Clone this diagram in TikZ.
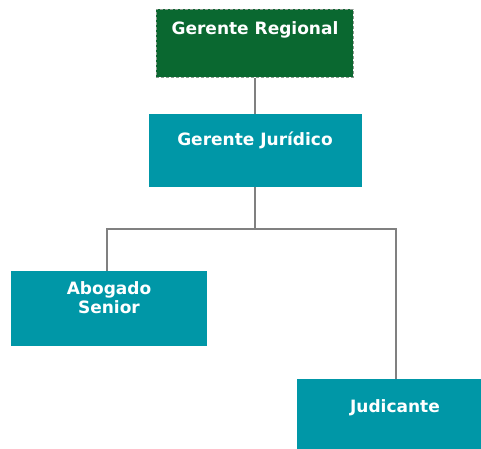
\documentclass[tikz,border=0pt]{standalone}
\usepackage{fontspec}
\setmainfont{DejaVu Sans}
\begin{document}
\begin{tikzpicture}[x=1pt,y=-1pt,
  boxstyle/.style={draw=none,fill=tealc,inner sep=0pt,anchor=north west},
  lbl/.style={text=white,font=\bfseries\fontsize{17}{19.5}\selectfont,align=center,inner sep=0pt},
  conn/.style={draw=linec,line width=1.4pt}]
\definecolor{tealc}{RGB}{0,151,167}
\definecolor{greenc}{RGB}{10,104,48}
\definecolor{linec}{RGB}{128,128,128}
\definecolor{dashc}{RGB}{140,155,145}
\useasboundingbox (0,0) rectangle (481,448);
\node[boxstyle,fill=greenc,draw=dashc,dash pattern=on 3pt off 2pt,line width=0.9pt,minimum width=197pt,minimum height=68pt] (gr) at (156,9) {};
\node[boxstyle,minimum width=213pt,minimum height=73pt] (gj) at (149,114) {};
\node[boxstyle,minimum width=196pt,minimum height=75pt] (as) at (11,271) {};
\node[boxstyle,minimum width=190pt,minimum height=75pt] (ju) at (297,379) {};
\node[lbl] (tgr) at (255,30) {Gerente Regional};
\node[lbl] (tgj) at (255,140) {Gerente Jurídico};
\node[lbl] (tas) at (109,297.5) {Abogado\\Senior};
\node[lbl] (tju) at (395,408) {Judicante};
\coordinate (hub) at (255,229);
\draw[conn] (gr.south -| hub) -- (gj.north -| hub);
\draw[conn] (gj.south -| hub) -- (hub);
\draw[conn] (hub) -| (as.north -| 107,0);
\draw[conn] (hub) -| (ju.north -| 396,0);
\end{tikzpicture}
\end{document}
